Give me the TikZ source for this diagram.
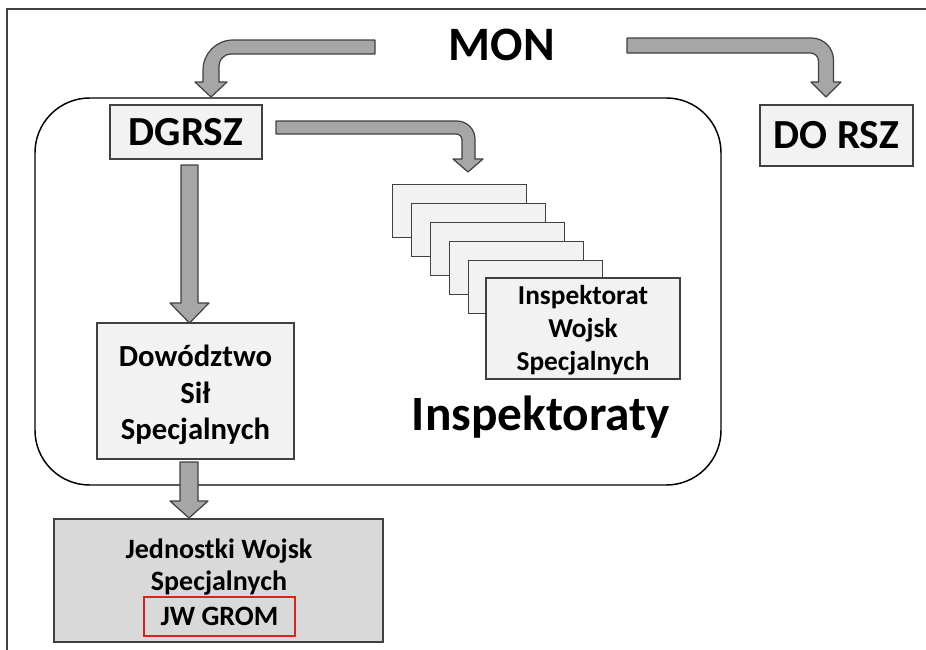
\documentclass[tikz,border=0pt]{standalone}
\usepackage{fontspec}
\setmainfont{Carlito}
\definecolor{boxline}{HTML}{404040}
\definecolor{lightfill}{HTML}{F2F2F2}
\definecolor{darkfill}{HTML}{D9D9D9}
\definecolor{arrowfill}{HTML}{A6A6A6}
\definecolor{gromred}{HTML}{E02020}
\begin{document}
\begin{tikzpicture}[x=0.75pt,y=-0.75pt,
  orgbox/.style={draw=boxline,line width=1.1pt,fill=lightfill,inner sep=0pt,align=center,font=\bfseries},
  blockarrow/.style={draw=boxline,line width=0.9pt,fill=arrowfill,line join=round},
  bigtext/.style={inner sep=0pt,font=\bfseries}]
\useasboundingbox (0,0) rectangle (926,650);
% outer frame
\draw[boxline,line width=1.5pt] (7,650) -- (7,9) -- (926,9);
% rounded group
\draw[black,line width=1.1pt,rounded corners=41pt] (35,98) rectangle (721,485);
% titles
\node[bigtext,anchor=base,font=\bfseries\fontsize{36}{40}\selectfont] (mon) at (502,60) {MON};
\node[orgbox,minimum width=152*0.75pt,minimum height=54*0.75pt,font=\bfseries\fontsize{31}{36}\selectfont] (dgrsz) at (186,132) {DGRSZ};
\node[orgbox,minimum width=153*0.75pt,minimum height=61*0.75pt,font=\bfseries\fontsize{31}{36}\selectfont] (dorsz) at (836.5,135.5) {DO RSZ};
% inspectorate stack
\foreach \k in {0,...,4}{
  \node[orgbox,minimum width=134*0.75pt,minimum height=53*0.75pt,anchor=north west] (ib\k) at ({392+19*\k},{184+19*\k}) {};
}
\node[orgbox,minimum width=194*0.75pt,minimum height=101*0.75pt,font=\bfseries\fontsize{20.5}{24.75}\selectfont] (iws) at (583,328.5) {};
\node[inner sep=0pt,align=center,font=\bfseries\fontsize{20.5}{24.75}\selectfont] (iwstext) at (583,330) {Inspektorat\\Wojsk\\Specjalnych};
\node[bigtext,anchor=base,font=\bfseries\fontsize{37}{42}\selectfont] (insp) at (541,430) {Inspektoraty};
% DSS
\node[orgbox,minimum width=197*0.75pt,minimum height=136*0.75pt] (dss) at (195.5,391) {};
\node[inner sep=0pt,align=center,font=\bfseries\fontsize{23}{27.4}\selectfont] (dsstext) at (195.5,395) {Dowództwo\\Sił\\Specjalnych};
% JWS
\node[orgbox,fill=darkfill,minimum width=329*0.75pt,minimum height=123*0.75pt] (jws) at (218.5,580.5) {};
\node[inner sep=0pt,align=center,font=\bfseries\fontsize{21}{24}\selectfont] (jwstext) at (219,567) {Jednostki Wojsk\\Specjalnych};
\node[draw=gromred,line width=1.4pt,inner sep=0pt,minimum width=151*0.75pt,minimum height=39*0.75pt,font=\bfseries\fontsize{21}{24}\selectfont] (grom) at (219.5,616.5) {JW GROM};
% block arrows
\draw[blockarrow] (375,40) -- (233,40) .. controls (216.4,40) and (203,53.4) .. (203,70) -- (203,82) -- (195,82) -- (211,97) -- (227,82) -- (219,82) -- (219,66) .. controls (219,59.4) and (224.4,54) .. (231,54) -- (375,54) -- cycle;
\draw[blockarrow] (627,38) -- (811.5,38) .. controls (823.65,38) and (833.5,47.85) .. (833.5,60) -- (833.5,82) -- (841,82) -- (826,97) -- (811,82) -- (818.5,82) -- (818.5,61) .. controls (818.5,56.6) and (814.9,53) .. (810.5,53) -- (627,53) -- cycle;
\draw[blockarrow] (276,121) -- (457,121) .. controls (466.9,121) and (475,129.1) .. (475,139) -- (475,159) -- (483,159) -- (468,172) -- (453,159) -- (462,159) -- (462,140) .. controls (462,136.7) and (459.3,134) .. (456,134) -- (276,134) -- cycle;
\draw[blockarrow] (181,165) -- (181,303) -- (170,303) -- (189.5,323) -- (209,303) -- (198,303) -- (198,165) -- cycle;
\draw[blockarrow] (180,462) -- (180,501) -- (170,501) -- (189,518) -- (208,501) -- (198,501) -- (198,462) -- cycle;
\end{tikzpicture}
\end{document}
